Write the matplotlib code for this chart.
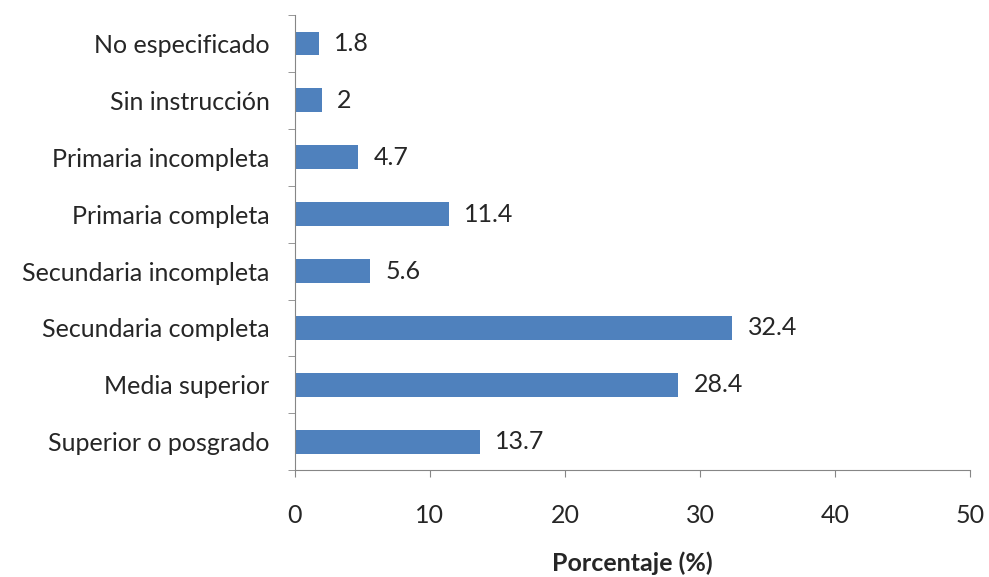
import numpy as np
import matplotlib.pyplot as plt

plt.rcParams['font.family'] = ['Lato', 'DejaVu Sans']

# nivel de escolaridad, de arriba hacia abajo
categorias = ["No especificado", "Sin instrucción", "Primaria incompleta",
              "Primaria completa", "Secundaria incompleta",
              "Secundaria completa", "Media superior", "Superior o posgrado"]
porcentajes = [1.8, 2, 4.7, 11.4, 5.6, 32.4, 28.4, 13.7]
etiquetas = ["1.8", "2", "4.7", "11.4", "5.6", "32.4", "28.4", "13.7"]

color_barra = "#4F81BD"
color_eje = "#868686"
color_texto = "#262626"

fig = plt.figure(figsize=(9.89, 5.77), dpi=100)
ax = fig.add_axes([0.298, 0.185, 0.683, 0.789])

y = np.arange(len(categorias))[::-1]
ax.barh(y, porcentajes, height=0.42, color=color_barra)

for yi, val, txt in zip(y, porcentajes, etiquetas):
    ax.annotate(txt, (val, yi), xytext=(11, 0), textcoords="offset points",
                va="center", ha="left", fontsize=18, color=color_texto)

ax.set_xlim(0, 50)
ax.set_ylim(-0.5, len(categorias) - 0.5)
ax.set_xticks(range(0, 51, 10))
ax.set_yticks(y)
ax.set_yticklabels(categorias)
ax.set_yticks(np.arange(-0.5, len(categorias), 1), minor=True)

ax.tick_params(axis="y", which="major", length=0, pad=18, labelsize=18,
               labelcolor=color_texto)
ax.tick_params(axis="y", which="minor", length=5, color=color_eje,
               direction="out")
ax.tick_params(axis="x", length=5, color=color_eje, direction="out",
               pad=19, labelsize=18, labelcolor=color_texto)

for lado in ["top", "right"]:
    ax.spines[lado].set_visible(False)
for lado in ["left", "bottom"]:
    ax.spines[lado].set_color(color_eje)

ax.set_xlabel("Porcentaje (%)", fontsize=18, fontweight="bold",
              labelpad=18, color=color_texto)

fig.savefig("out.png", dpi=100)
